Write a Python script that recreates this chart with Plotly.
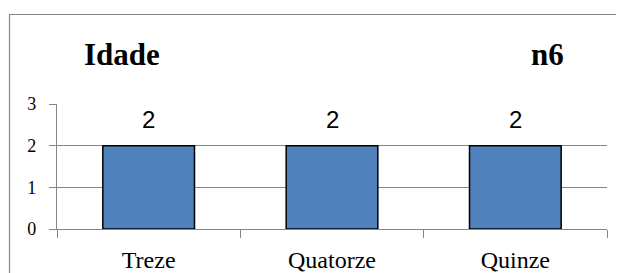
import plotly.graph_objects as go

categories = ["Treze", "Quatorze", "Quinze"]
values = [2, 2, 2]
y_ticks = [0, 1, 2, 3]
title_left = "Idade"
title_right = "n6"

# the page body adds an 8px offset, so the figure is sized to fit the window
W, H = 616, 265
L, R, T, B = 49, 17, 96, 44
pw, ph = W - L - R, H - T - B

def px_x(x):
    return (x - L) / pw

def px_y(y):
    return (H - B - y) / ph

fig = go.Figure()
fig.add_trace(go.Bar(
    x=categories, y=values,
    marker=dict(color="#4F81BD", line=dict(color="#000000", width=1.5)),
    width=0.5,
))

for c, v in zip(categories, values):
    fig.add_annotation(x=c, y=v, text=str(v), showarrow=False,
                       yanchor="middle", yshift=26,
                       font=dict(family="Liberation Sans", size=24, color="#000000"))

fig.add_annotation(x=px_x(114), y=px_y(46), xref="paper", yref="paper", text="<b>%s</b>" % title_left,
                   showarrow=False, xanchor="center", yanchor="middle",
                   font=dict(family="Liberation Serif", size=31, color="#000000"))
fig.add_annotation(x=px_x(539), y=px_y(46), xref="paper", yref="paper", text="<b>%s</b>" % title_right,
                   showarrow=False, xanchor="center", yanchor="middle",
                   font=dict(family="Liberation Serif", size=31, color="#000000"))

fig.add_shape(type="rect", xref="paper", yref="paper",
              x0=px_x(1.5), x1=px_x(640), y0=px_y(6.5), y1=px_y(290),
              line=dict(color="#868686", width=1.2), fillcolor="rgba(0,0,0,0)", layer="below")

fig.update_layout(
    width=W, height=H,
    margin=dict(l=L, r=R, t=T, b=B, autoexpand=False),
    paper_bgcolor="white", plot_bgcolor="white",
    showlegend=False,
    bargap=0.5,
)
fig.update_xaxes(
    automargin=False,
    showline=True, linecolor="#868686", linewidth=1.2,
    ticks="outside", ticklen=8, tickcolor="#868686", tickwidth=1.2,
    tickson="boundaries", showgrid=False,
    tickfont=dict(family="Liberation Serif", size=24, color="#000000"),
    ticklabelstandoff=9,
    range=[-0.5, 2.5],
)
fig.update_yaxes(
    automargin=False,
    range=[0, 3], tickvals=y_ticks, ticktext=[str(t) for t in y_ticks],
    showline=True, linecolor="#868686", linewidth=1.2,
    ticks="outside", ticklen=7, tickcolor="#868686", tickwidth=1.2,
    showgrid=True, gridcolor="#868686", gridwidth=1.2, zeroline=False,
    tickfont=dict(family="Liberation Serif", size=18, color="#000000"),
    ticklabelstandoff=9,
)

fig.write_html("out.html")
